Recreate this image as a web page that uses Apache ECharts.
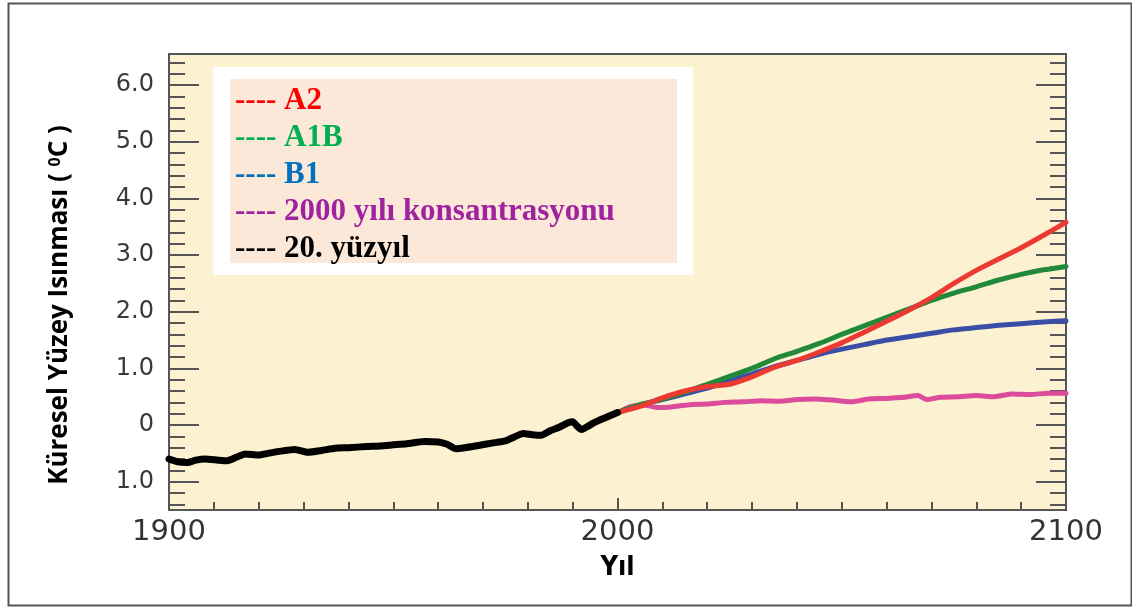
<!DOCTYPE html>
<html>
<head>
<meta charset="utf-8">
<script src="https://cdn.jsdelivr.net/npm/echarts@6/dist/echarts.min.js"></script>
<style>html,body{margin:0;padding:0;background:#fff}#c{width:1132px;height:608px}</style>
</head>
<body>
<div id="c"></div>
<script>
// ---- data ----
const histYears = [1900,1902,1904,1906,1908,1911,1913,1915,1917,1920,1922,1925,1928,1931,1934,1937,1940,1944,1947,1950,1953,1957,1960,1962,1964,1966,1969,1972,1975,1977,1979,1981,1983,1985,1987,1989,1990,1991,1992,1993,1995,1997,2000];
const histValues = [-0.60,-0.65,-0.66,-0.62,-0.60,-0.62,-0.63,-0.57,-0.51,-0.53,-0.50,-0.46,-0.43,-0.48,-0.45,-0.41,-0.40,-0.38,-0.37,-0.35,-0.33,-0.29,-0.30,-0.34,-0.42,-0.40,-0.36,-0.32,-0.28,-0.21,-0.15,-0.17,-0.18,-0.10,-0.04,0.04,0.06,-0.02,-0.08,-0.04,0.05,0.12,0.22];

const projYears = [2000,2005,2010,2015,2020,2025,2030,2035,2040,2045,2050,2055,2060,2065,2070,2075,2080,2085,2090,2095,2100];
const a2Values  = [0.22,0.33,0.48,0.60,0.68,0.72,0.85,1.02,1.14,1.29,1.45,1.64,1.83,2.03,2.25,2.50,2.73,2.93,3.13,3.35,3.58];
const a1bValues = [0.22,0.36,0.46,0.58,0.72,0.86,1.00,1.17,1.30,1.44,1.60,1.75,1.90,2.05,2.20,2.33,2.44,2.56,2.66,2.74,2.80];
const b1Values  = [0.22,0.35,0.45,0.55,0.65,0.78,0.90,1.03,1.14,1.25,1.34,1.42,1.50,1.56,1.62,1.68,1.72,1.76,1.79,1.82,1.84];

const constYears  = [2000,2003,2006,2009,2012,2016,2020,2024,2028,2032,2036,2040,2044,2048,2052,2056,2060,2064,2067,2069,2072,2076,2080,2084,2088,2092,2096,2100];
const constValues = [0.22,0.33,0.35,0.31,0.32,0.36,0.37,0.40,0.41,0.43,0.42,0.45,0.46,0.44,0.41,0.46,0.47,0.49,0.52,0.45,0.49,0.50,0.52,0.50,0.55,0.54,0.56,0.56];

const seriesNames = ['A2','A1B','B1','2000 yılı konsantrasyonu','20. yüzyıl'];
const lineColors  = ['#ec3a32','#23893a','#3a4ea8','#dc4c9c','#000000'];
const legendColors = ['#ff0000','#00b050','#0070c0','#a0229e','#000000'];
const yMajorTicks = [-1,0,1,2,3,4,5,6];
const yMinorTicks = [-1.4,-1.2,-0.8,-0.6,-0.4,-0.2,0.2,0.4,0.6,0.8,1.2,1.4,1.6,1.8,2.2,2.4,2.6,2.8,3.2,3.4,3.6,3.8,4.2,4.4,4.6,4.8,5.2,5.4,5.6,5.8,6.2,6.4];

const zip = (xs, ys) => xs.map((x, i) => [x, ys[i]]);

const chart = echarts.init(document.getElementById('c'));
const axisColor = '#555';
const yRange = {min: -1.5, max: 6.55};

function yAxisDef(pos, ticks, len, labels, line) {
  return Object.assign({
    type: 'value', position: pos, gridIndex: 0,
    splitLine: {show: false},
    axisLine: {show: line, onZero: false, lineStyle: {color: axisColor, width: 2}},
    axisTick: {show: true, inside: true, length: len, customValues: ticks, lineStyle: {color: axisColor, width: 2}},
    axisLabel: labels ? {
      show: true, customValues: yMajorTicks, margin: 15,
      fontFamily: 'DejaVu Sans', fontSize: 24, color: '#3a3a3a',
      formatter: v => v === 0 ? '0' : Math.abs(v).toFixed(1)
    } : {show: false}
  }, yRange);
}

const y0 = yAxisDef('left', yMajorTicks, 30, true, true);
y0.name = '{a|Küresel Yüzey Isınması ( }{s|0}{a|C )}';
y0.nameLocation = 'middle';
y0.nameGap = 96;
y0.nameRotate = 90;
y0.nameTextStyle = {
  padding: [0, 46, 0, 0],
  rich: {
    a: {fontFamily: 'Open Sans', fontWeight: 'bold', fontSize: 26, color: '#000'},
    s: {fontFamily: 'Open Sans', fontWeight: 'bold', fontSize: 16, color: '#000', verticalAlign: 'top'}
  }
};

const option = {
  animation: false,
  grid: {left: 169, right: 66, top: 54, bottom: 98, show: true, backgroundColor: '#fcf2d2', borderColor: axisColor, borderWidth: 2},
  xAxis: {
    type: 'value', min: 1900, max: 2100, interval: 100,
    name: 'Yıl', nameLocation: 'middle', nameGap: 44,
    nameTextStyle: {fontFamily: "'DejaVu Sans Condensed', 'Liberation Sans'", fontWeight: 'bold', fontSize: 27, color: '#000'},
    splitLine: {show: false},
    axisLine: {show: true, onZero: false, lineStyle: {color: axisColor, width: 2}},
    axisTick: {show: true, inside: true, length: 12, lineStyle: {color: axisColor, width: 2}},
    minorTick: {show: true, splitNumber: 10, length: 8, lineStyle: {color: axisColor, width: 2}},
    axisLabel: {fontFamily: 'DejaVu Sans', fontSize: 29, color: '#333', margin: 8, formatter: v => String(v)}
  },
  yAxis: [
    y0,
    yAxisDef('left', yMinorTicks, 16, false, false),
    yAxisDef('right', yMajorTicks, 30, false, true),
    yAxisDef('right', yMinorTicks, 16, false, false)
  ],
  legend: {
    orient: 'vertical', left: 230, top: 85, padding: 0,
    itemWidth: 0, itemHeight: 0, itemGap: 6, selectedMode: false,
    icon: 'rect',
    formatter: n => '---- ' + n,
    textStyle: {fontFamily: 'Liberation Serif', fontWeight: 'bold', fontSize: 31, lineHeight: 30},
    data: seriesNames.map((n, i) => ({name: n, textStyle: {color: legendColors[i]}}))
  },
  graphic: [
    {type: 'rect', left: 6, top: 1, shape: {width: 1123, height: 602}, style: {fill: 'none', stroke: '#555', lineWidth: 2}, z: 10},
    {type: 'rect', left: 213, top: 67, shape: {width: 480, height: 208}, style: {fill: '#ffffff'}, z: 3},
    {type: 'rect', left: 230, top: 79, shape: {width: 447, height: 184}, style: {fill: '#fbe8d9'}, z: 3}
  ],
  series: [
    {name: seriesNames[3], type: 'line', data: zip(constYears, constValues), z: 2},
    {name: seriesNames[2], type: 'line', data: zip(projYears, b1Values), z: 3},
    {name: seriesNames[1], type: 'line', data: zip(projYears, a1bValues), z: 4},
    {name: seriesNames[0], type: 'line', data: zip(projYears, a2Values), z: 5},
    {name: seriesNames[4], type: 'line', data: zip(histYears, histValues), z: 6}
  ].map(s => Object.assign(s, {
    showSymbol: false, symbol: 'none', smooth: 0.2,
    lineStyle: {width: s.name === '20. yüzyıl' ? 7 : 5, color: lineColors[seriesNames.indexOf(s.name)], cap: 'round', join: 'round'},
    itemStyle: {color: lineColors[seriesNames.indexOf(s.name)]}
  }))
};
chart.setOption(option);
</script>
</body>
</html>
